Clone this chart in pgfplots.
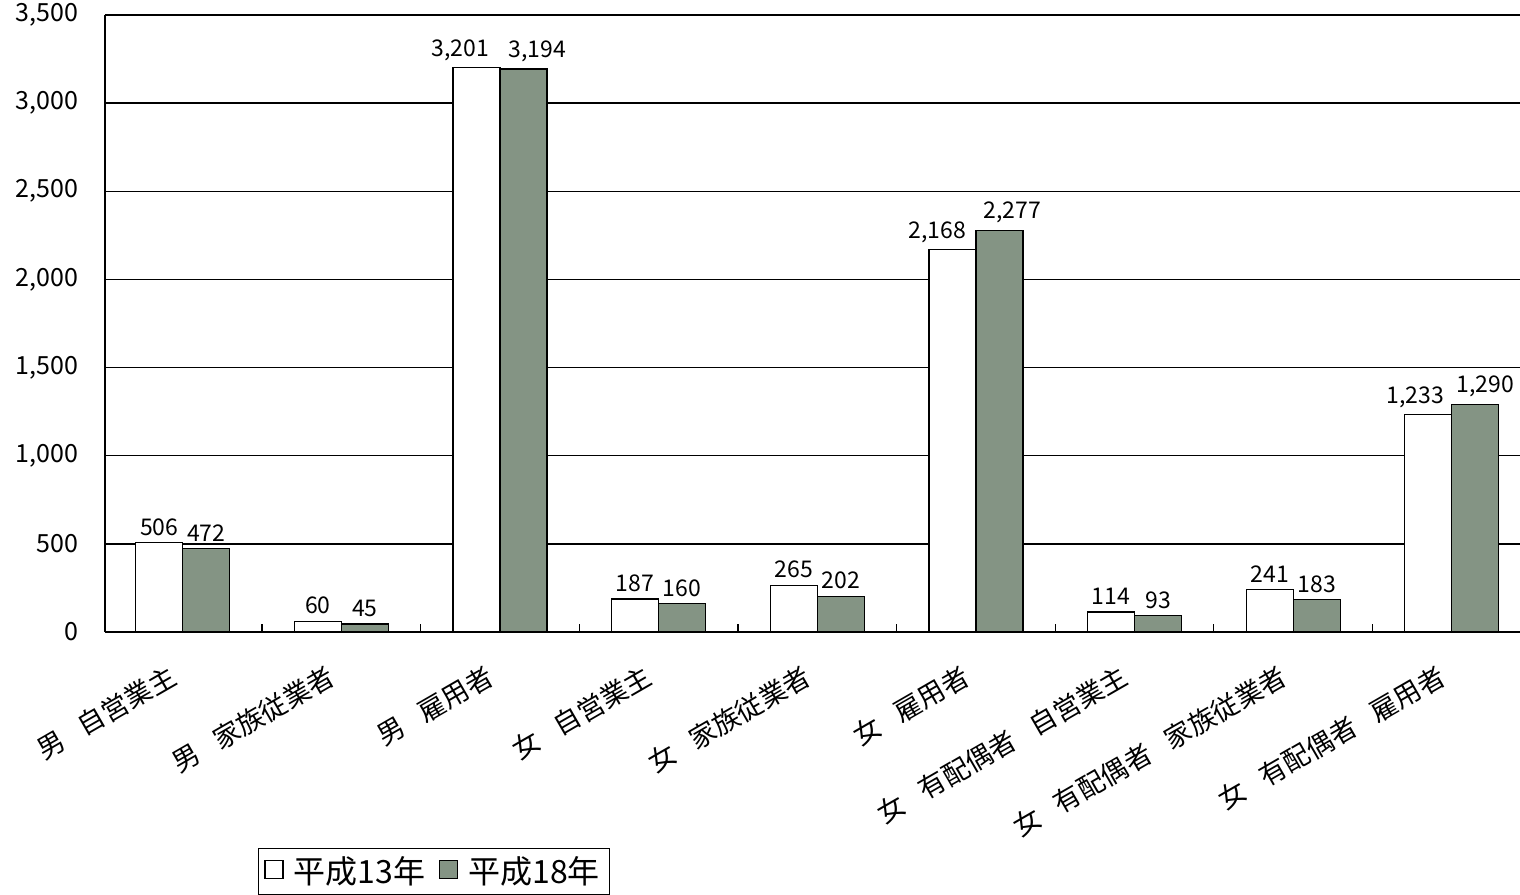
\documentclass[border=0pt]{standalone}
\usepackage{fontspec}
\setmainfont{Noto Sans CJK JP}
\usepackage{pgfplots}
\pgfplotsset{compat=1.18}
\definecolor{bargray}{RGB}{132,148,132}
\newcommand{\gap}{\hspace{0.75em}}

% x, value, horizontal shift of the value label (pt)
\pgfplotstableread{
x y s
0 506 0
1 60 0
2 3201 -8
3 187 0
4 265 0
5 2168 -7.5
6 114 0
7 241 0
8 1233 -6.5
}\hthirteen
\pgfplotstableread{
x y s
0 472 0
1 45 0
2 3194 7
3 160 0
4 202 0
5 2277 6.5
6 93 0
7 183 0
8 1290 5
}\heighteen

\begin{document}
\begin{tikzpicture}
% 1px of the reference = 0.5pt; axis box origin at (0,0)
\useasboundingbox (-52.5pt,-131pt) rectangle (707.5pt,316pt);
\begin{axis}[
    scale only axis,
    width=707.5pt, height=308.5pt,
    at={(0,0)}, anchor=south west,
    ybar=0pt, bar width=23.5pt,
    xmin=-0.49, xmax=8.43,
    ymin=0, ymax=3500,
    axis x line=bottom, axis y line=left,
    axis line style={-, black, line width=0.8pt},
    ytick={0,500,...,3500},
    ymajorgrids, grid style={black, line width=0.7pt},
    major y tick style={draw=none},
    xtick={0,...,8},
    major x tick style={draw=none},
    minor xtick={0.5,1.5,...,7.5},
    minor x tick style={black, line width=0.6pt},
    minor tick length=4pt, tick align=inside,
    xticklabels={男\gap 自営業主, 男\gap 家族従業者, 男\gap 雇用者,
        女\gap 自営業主, 女\gap 家族従業者, 女\gap 雇用者,
        女\gap 有配偶者\gap 自営業主, 女\gap 有配偶者\gap 家族従業者, 女\gap 有配偶者\gap 雇用者},
    xticklabel style={rotate=30, anchor=north east,
        font=\fontsize{13.5}{15}\selectfont, xshift=-11pt, yshift=-6pt},
    yticklabel style={font=\fontsize{12.5}{14}\selectfont, xshift=-10pt},
    /pgf/number format/.cd, 1000 sep={,}, assume math mode=true, /pgfplots/.cd,
    nodes near coords,
    visualization depends on={\thisrow{s} \as \labshift},
    every node near coord/.append style={font=\fontsize{11.5}{13}\selectfont, black,
        xshift=\labshift pt},
    legend columns=2,
    legend image code/.code={\draw[#1, line width=0.6pt] (0pt,-3.5pt) rectangle (9pt,5.5pt);},
    legend style={at={(0.108,-0.350)}, anchor=north west, draw=black,
        font=\fontsize{16}{18}\selectfont, line width=0.6pt,
        /tikz/every odd column/.append style={column sep=3pt},
        /tikz/every even column/.append style={column sep=5pt}},
]
\addplot[draw=black, fill=white, line width=0.6pt] table[x=x, y=y] {\hthirteen};
\addplot[draw=black, fill=bargray, line width=0.6pt] table[x=x, y=y] {\heighteen};
\legend{平成13年, 平成18年}
\end{axis}
\end{tikzpicture}
\end{document}
